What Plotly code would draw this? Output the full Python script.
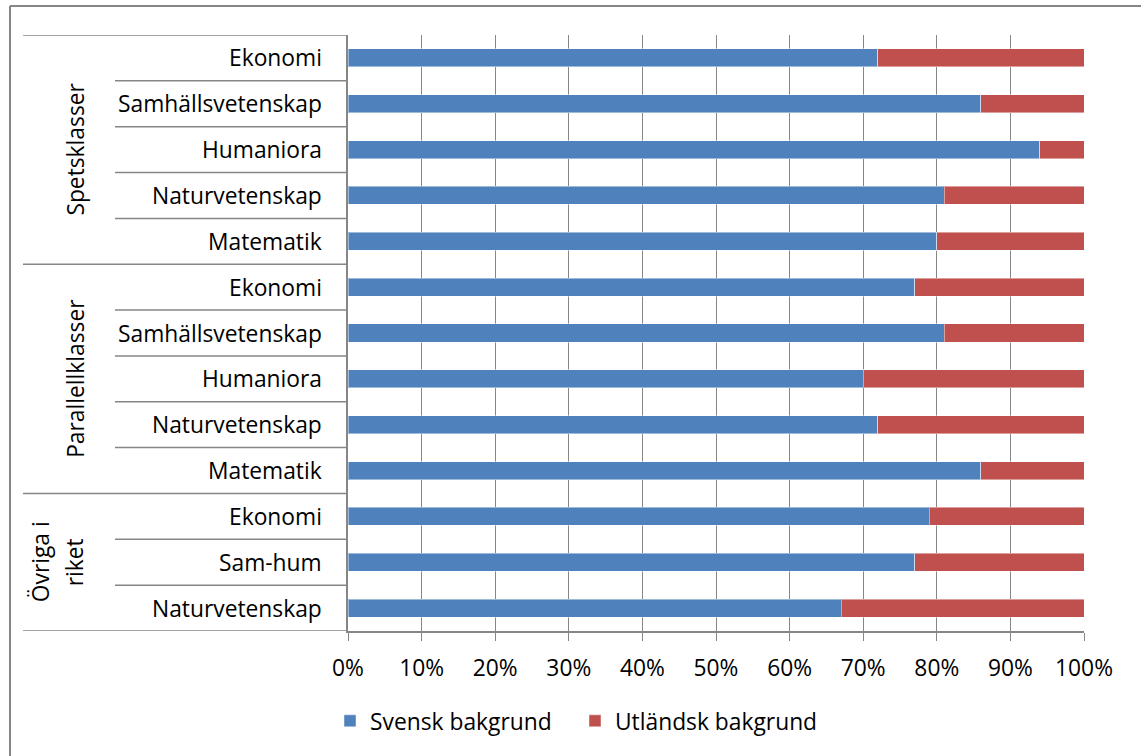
import plotly.graph_objects as go

groups = ["Spetsklasser"] * 5 + ["Parallellklasser"] * 5 + ["Övriga i riket"] * 3
subcats = ["Ekonomi", "Samhällsvetenskap", "Humaniora", "Naturvetenskap", "Matematik",
           "Ekonomi", "Samhällsvetenskap", "Humaniora", "Naturvetenskap", "Matematik",
           "Ekonomi", "Sam-hum", "Naturvetenskap"]
svensk = [72, 86, 94, 81, 80, 77, 81, 70, 72, 86, 79, 77, 67]
utlandsk = [28, 14, 6, 19, 20, 23, 19, 30, 28, 14, 21, 23, 33]
group_label_lines = [["Spetsklasser"], ["Parallellklasser"], ["Övriga i", "riket"]]
x_ticks = [0, 10, 20, 30, 40, 50, 60, 70, 80, 90, 100]
x_tick_text = [f"{v}%" for v in x_ticks]

cats = [f"{g} – {s}" for g, s in zip(groups, subcats)]
n = len(cats)

FONT = "Open Sans"
FS = 22.8
GRID = "#868686"
BLUE = "#4F81BD"
RED = "#C0504D"

W, H = 1141, 756
L, R, T, B = 348, 57, 35, 125
pw = W - L - R
ph = H - T - B

def px(x):
    return (x - L) / pw

def py(y):
    return (H - B - y) / ph

fig = go.Figure()
fig.add_trace(go.Bar(y=cats, x=svensk, name="Svensk bakgrund", orientation="h",
                     marker=dict(color=BLUE, line=dict(color="rgba(255,255,255,0.45)", width=1))))
fig.add_trace(go.Bar(y=cats, x=utlandsk, name="Utländsk bakgrund", orientation="h",
                     marker=dict(color=RED, line=dict(color="rgba(255,255,255,0.45)", width=1))))

shapes = []
group_bounds = []
prev = None
for i, g in enumerate(groups):
    if g != prev:
        group_bounds.append(i)
        prev = g
group_bounds.append(n)
for k in range(n + 1):
    x0 = px(23) if k in group_bounds else px(115)
    shapes.append(dict(type="line", xref="paper", yref="y", x0=x0, x1=0,
                       y0=k - 0.5, y1=k - 0.5, line=dict(color=GRID, width=1.5)))
# outer chart frame (top and left)
shapes.append(dict(type="line", xref="paper", yref="paper", x0=px(10), x1=px(1200),
                   y0=py(6), y1=py(6), line=dict(color=GRID, width=2)))
shapes.append(dict(type="line", xref="paper", yref="paper", x0=px(10), x1=px(10),
                   y0=py(6), y1=py(800), line=dict(color=GRID, width=2)))

annotations = []
for c, s in zip(cats, subcats):
    annotations.append(dict(x=px(324), y=c, xref="paper", yref="y", text=s,
                            showarrow=False, xanchor="right", yanchor="middle",
                            font=dict(family=FONT, size=FS, color="black")))
for gi, lines in enumerate(group_label_lines):
    a, b = group_bounds[gi], group_bounds[gi + 1]
    center = (a + b - 1) / 2
    xs = [76] if len(lines) == 1 else [40, 74]
    for line, xc in zip(lines, xs):
        annotations.append(dict(x=px(xc), y=center, xref="paper", yref="y", text=line,
                                showarrow=False, textangle=-90, xanchor="center", yanchor="middle",
                                font=dict(family=FONT, size=FS, color="black")))

fig.update_layout(
    width=W, height=H,
    margin=dict(l=L, r=R, t=T, b=B),
    barmode="stack", bargap=0.607,
    paper_bgcolor="white", plot_bgcolor="white",
    font=dict(family=FONT, size=FS, color="black"),
    xaxis=dict(range=[0, 100], tickmode="array", tickvals=x_ticks, ticktext=x_tick_text,
               showgrid=True, gridcolor=GRID, gridwidth=1.3, showline=True, linecolor=GRID,
               linewidth=1.5, ticks="outside", ticklen=8, tickcolor=GRID, tickwidth=1.3,
               zeroline=False, ticklabelstandoff=8,
               tickfont=dict(family=FONT, size=FS, color="black")),
    yaxis=dict(type="category", categoryorder="array", categoryarray=cats,
               range=[n - 0.5, -0.5], showticklabels=False, showgrid=False,
               showline=True, linecolor=GRID, linewidth=1.5, ticks="", zeroline=False),
    legend=dict(orientation="h", x=px(330), xanchor="left", y=py(721), yanchor="middle",
                font=dict(family=FONT, size=FS, color="black"), bgcolor="rgba(0,0,0,0)",
                traceorder="normal", entrywidth=200, entrywidthmode="pixels"),
    shapes=shapes,
    annotations=annotations,
    showlegend=True,
)

fig.write_html("out.html", config={"displayModeBar": False},
               post_script="document.body.style.margin='0';")
